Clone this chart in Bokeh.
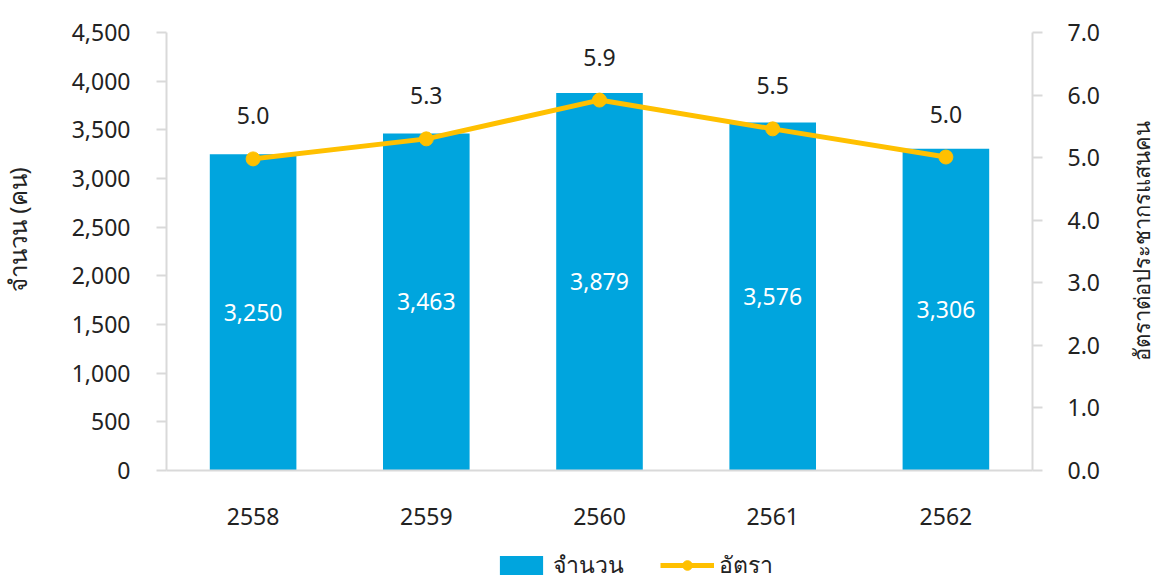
import math
from bokeh.plotting import figure
from bokeh.layouts import column, row
from bokeh.models import (ColumnDataSource, Range1d, LinearAxis, LabelSet, Legend,
                          LegendItem, NumeralTickFormatter, FixedTicker, Label)
from bokeh.core.properties import value
from bokeh.embed import file_html
from bokeh.resources import INLINE

years = ["2558", "2559", "2560", "2561", "2562"]
counts = [3250, 3463, 3879, 3576, 3306]
rates = [4.98, 5.30, 5.92, 5.46, 5.01]

left_ticks = [0, 500, 1000, 1500, 2000, 2500, 3000, 3500, 4000, 4500]
right_ticks = [0, 1, 2, 3, 4, 5, 6, 7]

left_title = "จำนวน (คน)"
right_title = "อัตราต่อประชากรแสนคน"
legend_labels = ["จำนวน", "อัตรา"]

FONT = "Noto Sans"
FS = "23px"
TXT = "#222222"
AX = "#D9D9D9"
BAR = "#00A5DE"
GOLD = "#FFC000"
W = 1157
W0 = 34
W3 = 40
H1 = 545


def strip(width):
    f = figure(width=width, height=H1, x_range=Range1d(0, 1), y_range=Range1d(0, 1),
               output_backend="svg", toolbar_location=None,
               x_axis_type=None, y_axis_type=None,
               min_border_left=0, min_border_right=0, min_border_top=32,
               min_border_bottom=75)
    f.outline_line_color = None
    f.xgrid.grid_line_color = None
    f.ygrid.grid_line_color = None
    return f


src = ColumnDataSource(dict(
    x=years,
    counts=counts,
    half=[c / 2 for c in counts],
    count_lbl=[f"{c:,}" for c in counts],
    rates=rates,
    rate_lbl=[f"{r:.1f}" for r in rates],
))

p = figure(x_range=years, y_range=Range1d(0, 4500), width=W - W0 - W3, height=H1,
           output_backend="svg", toolbar_location=None,
           min_border_left=166 - W0, min_border_right=85, min_border_top=32,
           min_border_bottom=75)
p.extra_y_ranges = {"rate": Range1d(0, 7)}
p.outline_line_color = None
p.xgrid.grid_line_color = None
p.ygrid.grid_line_color = None

bars = p.vbar(x="x", top="counts", width=0.5, source=src, fill_color=BAR, line_color=None)
ln = p.line(x="x", y="rates", source=src, y_range_name="rate", line_color=GOLD, line_width=5)
pts = p.scatter(x="x", y="rates", source=src, y_range_name="rate", size=14,
                fill_color=GOLD, line_color=GOLD)

ya = p.yaxis[0]
ya.ticker = FixedTicker(ticks=left_ticks)
ya.formatter = NumeralTickFormatter(format="0,0")

ra = LinearAxis(y_range_name="rate", ticker=FixedTicker(ticks=right_ticks),
                formatter=NumeralTickFormatter(format="0.0"))
p.add_layout(ra, "right")

for ax in [ya, ra]:
    ax.axis_line_color = AX
    ax.axis_line_width = 2
    ax.major_tick_line_color = AX
    ax.major_tick_line_width = 2
    ax.major_tick_out = 10
    ax.major_tick_in = 0
    ax.minor_tick_line_color = None
    ax.major_label_text_font = FONT
    ax.major_label_text_font_size = FS
    ax.major_label_text_color = TXT
ya.major_label_standoff = 26
ra.major_label_standoff = 25

xa = p.xaxis[0]
xa.axis_line_color = AX
xa.axis_line_width = 2
xa.major_tick_line_color = None
xa.minor_tick_line_color = None
xa.major_label_text_font = FONT
xa.major_label_text_font_size = FS
xa.major_label_text_color = TXT
xa.major_label_standoff = 31

count_labels = LabelSet(x="x", y="half", text="count_lbl", source=src,
                        text_align="center", text_baseline="middle",
                        text_color="white", text_font=value(FONT), text_font_size=FS)
rate_labels = LabelSet(x="x", y="rates", text="rate_lbl", source=src, y_range_name="rate",
                       y_offset=43, text_align="center", text_baseline="middle",
                       text_color=TXT, text_font=value(FONT), text_font_size=FS)
p.add_layout(count_labels)
p.add_layout(rate_labels)

# narrow strips holding the axis titles (both read bottom to top)
p0 = strip(W0)
p0.add_layout(Label(x=0.5, y=0.55, text=left_title, angle=math.pi / 2,
                    text_align="center", text_baseline="middle",
                    text_font=FONT, text_font_size="24px", text_color=TXT))
p3 = strip(W3)
p3.add_layout(Label(x=0.575, y=0.525, text=right_title, angle=math.pi / 2,
                    text_align="center", text_baseline="middle",
                    text_font=FONT, text_font_size="22px", text_color=TXT))

# legend strip below the chart (hidden renderers only provide the legend swatches)
p2 = figure(width=W, height=583 - H1, x_range=p.x_range, y_range=Range1d(0, 4500),
            output_backend="svg", toolbar_location=None,
            x_axis_type=None, y_axis_type=None,
            min_border_left=166, min_border_right=125, min_border_top=0, min_border_bottom=0)
p2.outline_line_color = None
p2.xgrid.grid_line_color = None
p2.ygrid.grid_line_color = None
lg_bar = p2.vbar(x="x", top="counts", width=0.5, source=src, fill_color=BAR, line_color=None,
                 visible=False)
lg_line = p2.line(x="x", y="rates", source=src, line_color=GOLD, line_width=5, visible=False)
lg_pt = p2.scatter(x="x", y="rates", source=src, size=14, fill_color=GOLD, line_color=GOLD,
                   visible=False)

legend = Legend(items=[LegendItem(label=legend_labels[0], renderers=[lg_bar]),
                       LegendItem(label=legend_labels[1], renderers=[lg_line, lg_pt])],
                orientation="horizontal", location=(328, 0),
                glyph_width=54, glyph_height=24, spacing=36, padding=0, margin=0,
                label_text_font=FONT, label_text_font_size=FS,
                label_text_color=TXT, label_standoff=5,
                inactive_fill_alpha=0,
                border_line_color=None, background_fill_alpha=0)
p2.add_layout(legend)

layout = column(row(p0, p, p3, spacing=0), p2, spacing=0)
open("out.html", "w").write(file_html(layout, INLINE))
